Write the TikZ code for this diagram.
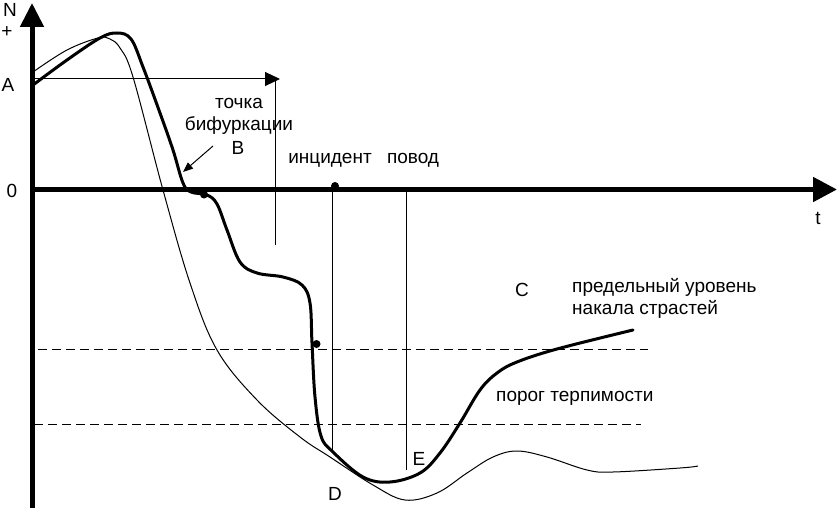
\documentclass[tikz,border=0pt]{standalone}
\usepackage{fontspec}
\setmainfont{Liberation Sans}
\usetikzlibrary{arrows.meta}
\begin{document}
\begin{tikzpicture}[x=1pt,y=-1pt,
  axisline/.style={line width=5pt},
  thickcurve/.style={line width=3pt, line cap=round, line join=round},
  thincurve/.style={line width=1pt, line join=round},
  guide/.style={line width=1pt},
  dashline/.style={line width=1pt, dash pattern=on 9pt off 5pt},
  lbl/.style={inner sep=0pt, font=\fontsize{19}{21}\selectfont},
  lblw/.style={lbl, anchor=west},
  dotmark/.style={circle, fill=black, inner sep=0pt, minimum size=8pt}]
\useasboundingbox (0,0) rectangle (838,508);

% axes
\coordinate (Ybot) at (32,508);
\coordinate (Ytop) at (32,3);
\coordinate (Xl) at (30,189.5);
\coordinate (Xr) at (837,189.5);
\draw[axisline, -{Triangle[length=24pt,width=23pt]}] (Ybot) -- (Ytop);
\draw[axisline, -{Triangle[length=24pt,width=24pt]}] (Xl) -- (Xr);

% guide lines
\coordinate (Astart) at (32,79);
\coordinate (Aend) at (280,79);
\coordinate (Vtop) at (275,79);
\coordinate (Vbot) at (275,245);
\draw[guide, -{Triangle[length=15pt,width=14pt]}] (Astart) -- (Aend);
\draw[guide] (Vtop) -- (Vbot);

\coordinate (Itop) at (332,186);
\coordinate (Ibot) at (332,451);
\coordinate (Ptop) at (406,189);
\coordinate (Pbot) at (406,470);
\draw[guide] (Itop) -- (Ibot);
\draw[guide] (Ptop) -- (Pbot);

% dashed levels
\coordinate (U1) at (38,349);
\coordinate (U2) at (648,349);
\coordinate (L1) at (34,424);
\coordinate (L2) at (641,424);
\draw[dashline] (U1) -- (U2);
\draw[dashline] (L1) -- (L2);

% thin curve
\draw[thincurve] plot[smooth, tension=0.6] coordinates {
 (33,72) (67,50) (98,38) (110,39) (120,48) (133,77) (163,190)
 (190,283) (217,350) (257,400) (300,437) (330,457)
 (373,485) (405,500) (437,493) (467,473) (493,457) (517,451) (547,457)
 (587,470) (613,472) (680,468) (698,466)};

% thick curve
\draw[thickcurve] plot[smooth, tension=0.6] coordinates {
 (33,85) (67,60) (100,38) (117,33) (131,39) (143,67) (160,113) (173,150)
 (183,183) (191,192) (207,195) (217,204) (227,230) (240,262) (257,273)
 (283,277) (302,285) (310,303) (312,343) (315,397) (321,436) (333,452)
 (363,477) (390,482) (420,473) (440,453) (460,423) (480,390) (497,373)
 (517,362) (557,349) (633,330)};

% dots
\node[dotmark] (dB) at (204,194.5) {};
\node[dotmark] (dI) at (335,186) {};
\node[dotmark] (dU) at (316.5,344) {};

% labels
\node[lbl] (N) at (10,10) {N};
\node[lbl] (plus) at (7,32) {+};
\node[lbl] (A) at (8,85) {A};
\node[lbl] (zero) at (12,191) {0};
\node[lbl] (t) at (818,218) {t};
\node[lbl] (tochka) at (239,103) {точка};
\node[lbl] (bif) at (239,126) {бифуркации};
\node[lbl] (B) at (238,148) {B};
\node[lbl] (inc) at (330,160) {инцидент};
\node[lbl] (povod) at (413,160) {повод};
\node[lbl] (C) at (522,290) {C};
\node[lblw] (pred1) at (572,287) {предельный уровень};
\node[lblw] (pred2) at (572,309) {накала страстей};
\node[lblw] (porog) at (496,398) {порог терпимости};
\node[lbl] (D) at (335,494) {D};
\node[lbl] (E) at (419,459) {E};

% bifurcation arrow
\coordinate (bA) at (213,146);
\coordinate (bB) at (183,172);
\draw[guide, -{Triangle[length=10pt,width=8pt]}] (bA) -- (bB);
\end{tikzpicture}
\end{document}
